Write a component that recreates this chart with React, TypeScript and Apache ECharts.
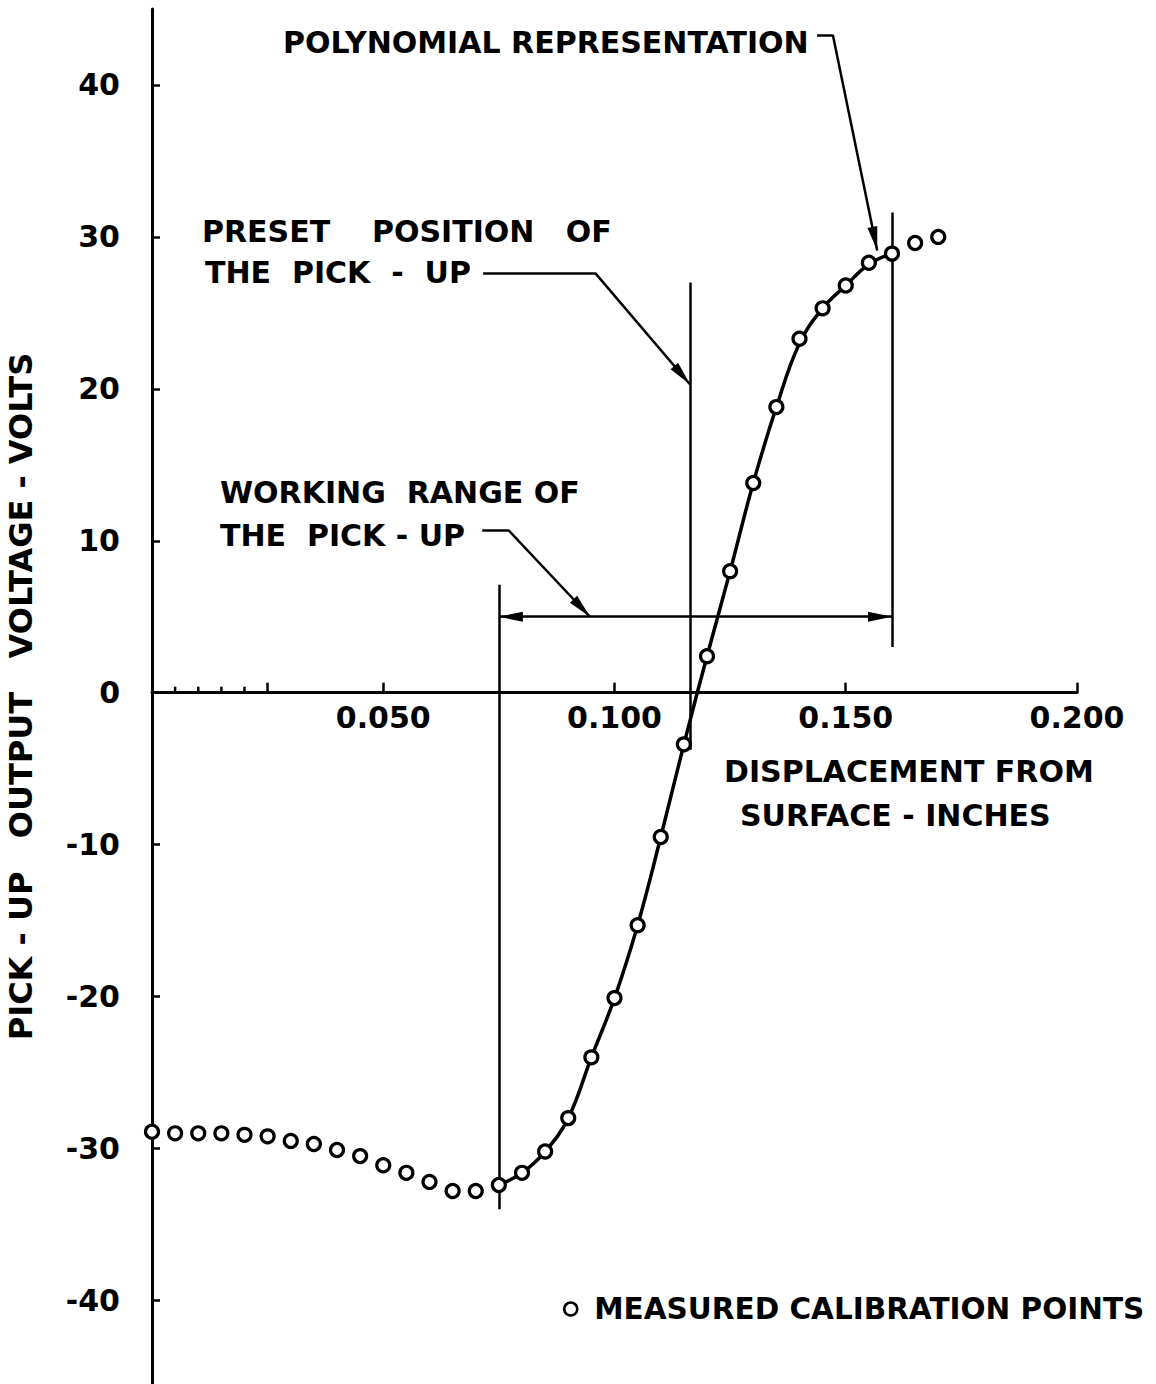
import React, { useEffect, useRef } from "react";
import * as echarts from "echarts";

// ---- data ----
const displacement = [
  0, 0.005, 0.01, 0.015, 0.02, 0.025, 0.03, 0.035, 0.04, 0.045, 0.05, 0.055,
  0.06, 0.065, 0.07, 0.075, 0.08, 0.085, 0.09, 0.095, 0.1, 0.105, 0.11, 0.115,
  0.12, 0.125, 0.13, 0.135, 0.14, 0.145, 0.15, 0.155, 0.16, 0.165, 0.17,
];
const measuredVolts = [
  -28.9, -29.0, -29.0, -29.0, -29.1, -29.2, -29.5, -29.7, -30.1, -30.5, -31.1,
  -31.6, -32.2, -32.8, -32.8, -32.4, -31.6, -30.2, -28.0, -24.0, -20.1, -15.3,
  -9.5, -3.4, 2.4, 8.0, 13.8, 18.8, 23.3, 25.3, 26.8, 28.3, 28.9, 29.6, 30.0,
];
// polynomial representation over the working range
const polyX = [0.075, 0.08, 0.085, 0.09, 0.095, 0.1, 0.105, 0.11, 0.115, 0.12, 0.125, 0.13, 0.135, 0.14, 0.145, 0.15, 0.155, 0.16];
const polyY = [-32.4, -31.6, -30.2, -28.0, -24.0, -20.1, -15.3, -9.5, -3.4, 2.4, 8.0, 13.8, 18.8, 23.0, 25.3, 26.8, 28.2, 28.9];

const yTickValues = [-40, -30, -20, -10, 0, 10, 20, 30, 40];
const xTickValues = [0.025, 0.05, 0.1, 0.15, 0.2];
const xLabelValues = [0.05, 0.1, 0.15, 0.2];
const xSmallTicks = [0.005, 0.01, 0.015, 0.02];

// key positions of the annotation lines (data units)
const workingStart = 0.075;
const workingEnd = 0.16;
const presetPosition = 0.1163;
const rangeArrowLevel = 5.0;

const FONT = "DejaVu Sans";
const SERIES_NAME = "MEASURED CALIBRATION POINTS";

const Y_MIN = -45.5;
const Y_MAX = 45;
const GRID_TOP = 9;
const GRID_LEFT = 152;
const GRID_RIGHT = 79;
const PAGE_H = 1384;

export default function App() {
  const ref = useRef<HTMLDivElement>(null);

  useEffect(() => {
    if (!ref.current) return;
    const chart = echarts.init(ref.current, null, { renderer: "svg" });

    const head = { symbol: "triangle", symbolSize: [10, 24], symbolOffset: [0, "50%"] };
    const plain = { symbol: "none" };
    const seg = (a: number[], b: number[], sa: any = plain, sb: any = plain) => [
      { coord: a, ...sa },
      { coord: b, ...sb },
    ];

    const txt = (text: string, x: number, y: number, size = 30) => ({
      type: "text",
      x,
      y,
      style: {
        text,
        fill: "#000",
        fontSize: size,
        fontWeight: "bold",
        fontFamily: FONT,
        verticalAlign: "middle",
        align: "left",
      },
    });

    const gridH = PAGE_H - GRID_TOP;
    // height from the top of the plot down to the zero line
    const zeroOffset = (Y_MAX / (Y_MAX - Y_MIN)) * gridH;

    const labelFont = { color: "#000", fontSize: 30, fontWeight: "bold", fontFamily: FONT };

    const option: any = {
      animation: false,
      backgroundColor: "#fff",
      grid: [
        { left: GRID_LEFT, right: GRID_RIGHT, top: GRID_TOP, bottom: 0, outerBoundsMode: "none" },
        { left: GRID_LEFT, right: GRID_RIGHT, top: GRID_TOP, height: zeroOffset, outerBoundsMode: "none" },
      ],
      legend: {
        data: [{ name: SERIES_NAME, icon: "circle" }],
        left: 558,
        top: 1289,
        itemWidth: 13,
        itemHeight: 13,
        selectedMode: false,
        itemStyle: { color: "#fff", borderColor: "#000", borderWidth: 2.5, opacity: 1 },
        textStyle: { ...labelFont, fontSize: 29.5, padding: [0, 0, 0, 12] },
      },
      xAxis: [
        {
          type: "value",
          min: 0,
          max: 0.2,
          splitLine: { show: false },
          axisLine: { onZero: true, lineStyle: { color: "#000", width: 3 } },
          axisTick: {
            inside: true,
            length: 10,
            customValues: xTickValues,
            lineStyle: { color: "#000", width: 2.5 },
          },
          axisLabel: { show: false },
        },
        {
          // label carrier sitting on the zero line
          gridIndex: 1,
          type: "value",
          min: 0,
          max: 0.2,
          position: "bottom",
          splitLine: { show: false },
          axisLine: { show: false, onZero: false },
          axisTick: { show: false },
          axisLabel: {
            customValues: xLabelValues,
            formatter: (v: number) => v.toFixed(3),
            margin: 10,
            ...labelFont,
          },
        },
      ],
      yAxis: [
        {
          type: "value",
          min: Y_MIN,
          max: Y_MAX,
          splitLine: { show: false },
          name: "PICK - UP   OUTPUT   VOLTAGE - VOLTS",
          nameLocation: "middle",
          nameRotate: 90,
          nameGap: 115,
          nameTextStyle: { ...labelFont, fontSize: 32 },
          axisLine: { show: true, onZero: false, lineStyle: { color: "#000", width: 3 } },
          axisTick: {
            show: true,
            inside: true,
            length: 8,
            customValues: yTickValues,
            lineStyle: { color: "#000", width: 2.5 },
          },
          axisLabel: {
            customValues: yTickValues,
            formatter: (v: number) => String(v),
            margin: 32,
            ...labelFont,
          },
        },
        { gridIndex: 1, type: "value", min: 0, max: 1, show: false },
      ],
      series: [
        {
          name: "small ticks",
          type: "scatter",
          data: xSmallTicks.map((x) => [x, 0]),
          symbol: "rect",
          symbolSize: [2.5, 6],
          symbolOffset: [0, -3],
          itemStyle: { color: "#000", opacity: 1 },
          silent: true,
          z: 1,
        },
        {
          name: "POLYNOMIAL REPRESENTATION",
          type: "line",
          data: polyX.map((x, i) => [x, polyY[i]]),
          smooth: 0.4,
          showSymbol: false,
          symbol: "none",
          lineStyle: { color: "#000", width: 3.5 },
          itemStyle: { color: "#000" },
          silent: true,
          z: 2,
          markLine: {
            silent: true,
            animation: false,
            symbol: ["none", "none"],
            label: { show: false },
            emphasis: { disabled: true },
            lineStyle: { color: "#000", width: 2.5, type: "solid" },
            itemStyle: { color: "#000" },
            data: [
              seg([workingStart, 7.1], [workingStart, -34.0]),
              seg([presetPosition, 27.0], [presetPosition, -3.75]),
              seg([workingEnd, 31.6], [workingEnd, 3.0]),
              seg([workingStart, rangeArrowLevel], [workingEnd, rangeArrowLevel], head, head),
              // preset position leader
              seg([0.0716, 27.63], [0.0958, 27.63]),
              seg([0.0958, 27.63], [presetPosition, 20.3], plain, head),
              // working range leader
              seg([0.0714, 10.72], [0.077, 10.72]),
              seg([0.077, 10.72], [0.0947, rangeArrowLevel], plain, head),
              // polynomial leader
              seg([0.1438, 43.3], [0.1472, 43.3]),
              seg([0.1472, 43.3], [0.1568, 29.1], plain, head),
            ],
          },
        },
        {
          name: SERIES_NAME,
          type: "scatter",
          data: displacement.map((x, i) => [x, measuredVolts[i]]),
          symbol: "circle",
          symbolSize: 13,
          itemStyle: { color: "#fff", borderColor: "#000", borderWidth: 3.2, opacity: 1 },
          z: 5,
        },
      ],
      graphic: [
        txt("POLYNOMIAL REPRESENTATION", 283, 42),
        txt("PRESET    POSITION   OF", 202, 231),
        txt("THE  PICK  -  UP", 205, 272),
        txt("WORKING  RANGE OF", 220, 492),
        txt("THE  PICK - UP", 220, 535),
        txt("DISPLACEMENT FROM", 724, 771),
        txt("SURFACE - INCHES", 740, 815),
      ],
    };

    chart.setOption(option);
    return () => chart.dispose();
  }, []);

  return (
    <div
      ref={ref}
      style={{ position: "absolute", left: 0, top: 0, width: 1156, height: PAGE_H, background: "#fff" }}
    />
  );
}
